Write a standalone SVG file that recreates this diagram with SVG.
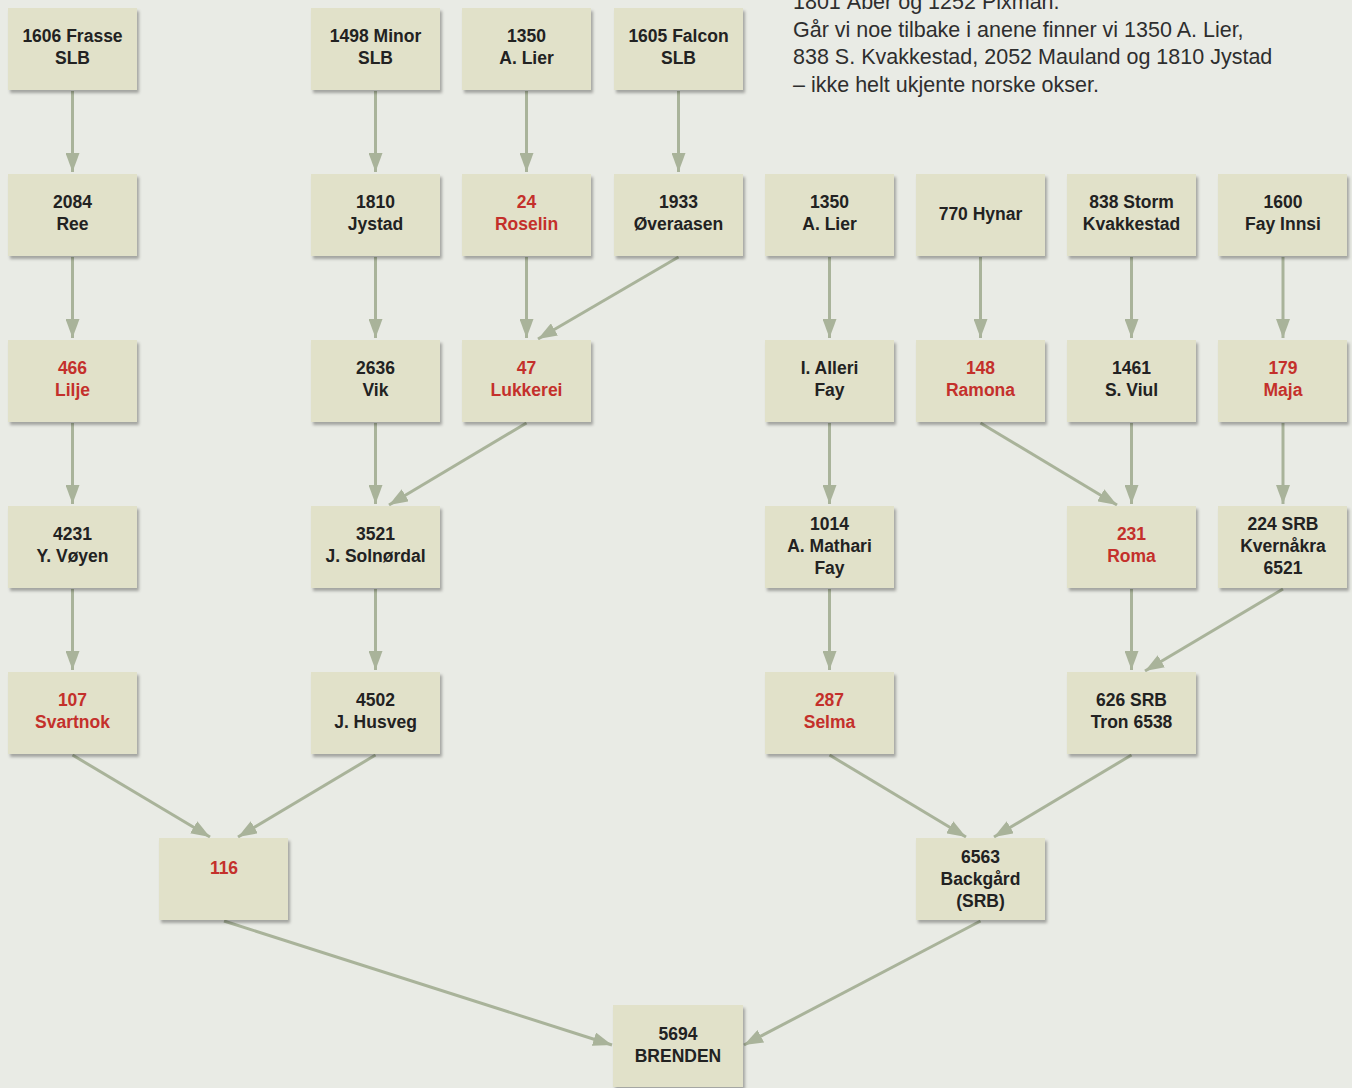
<svg xmlns="http://www.w3.org/2000/svg" width="1352" height="1088" viewBox="0 0 1352 1088">
<style>
  .box{fill:#e1e1c9;filter:url(#sh)}
  .t{font-family:"Liberation Sans",Arial,sans-serif;font-weight:700;font-size:17.5px;fill:#222;text-anchor:middle}
  .r{fill:#c4302b}
  .p{font-family:"Liberation Sans",Arial,sans-serif;font-size:21.5px;fill:#2e2e2e}
  .c{fill:none;stroke:#a9b39a;stroke-width:3;marker-end:url(#ah)}
</style>
<defs>
  <filter id="sh" x="-10%" y="-10%" width="130%" height="130%">
    <feDropShadow dx="2" dy="3" stdDeviation="1.5" flood-color="#000" flood-opacity="0.3"/>
  </filter>
  <marker id="ah" markerUnits="userSpaceOnUse" markerWidth="20" markerHeight="14" refX="19" refY="7" orient="auto">
    <path d="M0,0 L19,7 L0,14 Z" fill="#a9b39a"/>
  </marker>
</defs>
<rect width="1352" height="1088" fill="#e9ebe5"/>
<g id="intro" class="p">
  <text x="793" y="9">1801 Åber og 1252 Pixman.</text>
  <text x="793" y="37">Går vi noe tilbake i anene finner vi 1350 A. Lier,</text>
  <text x="793" y="64">838 S. Kvakkestad, 2052 Mauland og 1810 Jystad</text>
  <text x="793" y="92">– ikke helt ukjente norske okser.</text>
</g>
<g id="connectors">
  <path class="c" d="M72.5,91 V172"/>
  <path class="c" d="M72.5,257 V338"/>
  <path class="c" d="M72.5,423 V504"/>
  <path class="c" d="M72.5,589 V670"/>
  <path class="c" d="M375.5,91 V172"/>
  <path class="c" d="M375.5,257 V338"/>
  <path class="c" d="M375.5,423 V504"/>
  <path class="c" d="M375.5,589 V670"/>
  <path class="c" d="M526.5,91 V172"/>
  <path class="c" d="M526.5,257 V338"/>
  <path class="c" d="M678.5,91 V172"/>
  <path class="c" d="M829.5,257 V338"/>
  <path class="c" d="M829.5,423 V504"/>
  <path class="c" d="M829.5,589 V670"/>
  <path class="c" d="M980.5,257 V338"/>
  <path class="c" d="M1131.5,257 V338"/>
  <path class="c" d="M1131.5,423 V504"/>
  <path class="c" d="M1131.5,589 V670"/>
  <path class="c" d="M1283,257 V338"/>
  <path class="c" d="M1283,423 V504"/>
  <path class="c" d="M678.5,257 L538,339"/>
  <path class="c" d="M526.5,423 L389,505"/>
  <path class="c" d="M980.5,423 L1117,505"/>
  <path class="c" d="M1283,589 L1145,671"/>
  <path class="c" d="M72.5,755 L210,837"/>
  <path class="c" d="M375.5,755 L238,837"/>
  <path class="c" d="M829.5,755 L966,837"/>
  <path class="c" d="M1131.5,755 L994,837"/>
  <path class="c" d="M224,921 L612,1045"/>
  <path class="c" d="M980.5,921 L744,1045"/>
</g>
<g id="n1606"><rect class="box" x="8" y="8" width="129" height="82"/><text class="t" x="72.5" y="42">1606 Frasse</text><text class="t" x="72.5" y="64">SLB</text></g>
<g id="n1498"><rect class="box" x="311" y="8" width="129" height="82"/><text class="t" x="375.5" y="42">1498 Minor</text><text class="t" x="375.5" y="64">SLB</text></g>
<g id="n1350a"><rect class="box" x="462" y="8" width="129" height="82"/><text class="t" x="526.5" y="42">1350</text><text class="t" x="526.5" y="64">A. Lier</text></g>
<g id="n1605"><rect class="box" x="614" y="8" width="129" height="82"/><text class="t" x="678.5" y="42">1605 Falcon</text><text class="t" x="678.5" y="64">SLB</text></g>
<g id="n2084"><rect class="box" x="8" y="174" width="129" height="82"/><text class="t" x="72.5" y="208">2084</text><text class="t" x="72.5" y="230">Ree</text></g>
<g id="n1810"><rect class="box" x="311" y="174" width="129" height="82"/><text class="t" x="375.5" y="208">1810</text><text class="t" x="375.5" y="230">Jystad</text></g>
<g id="n24"><rect class="box" x="462" y="174" width="129" height="82"/><text class="t r" x="526.5" y="208">24</text><text class="t r" x="526.5" y="230">Roselin</text></g>
<g id="n1933"><rect class="box" x="614" y="174" width="129" height="82"/><text class="t" x="678.5" y="208">1933</text><text class="t" x="678.5" y="230">Øveraasen</text></g>
<g id="n1350b"><rect class="box" x="765" y="174" width="129" height="82"/><text class="t" x="829.5" y="208">1350</text><text class="t" x="829.5" y="230">A. Lier</text></g>
<g id="n770"><rect class="box" x="916" y="174" width="129" height="82"/><text class="t" x="980.5" y="220">770 Hynar</text></g>
<g id="n838"><rect class="box" x="1067" y="174" width="129" height="82"/><text class="t" x="1131.5" y="208">838 Storm</text><text class="t" x="1131.5" y="230">Kvakkestad</text></g>
<g id="n1600"><rect class="box" x="1218" y="174" width="129" height="82"/><text class="t" x="1283" y="208">1600</text><text class="t" x="1283" y="230">Fay Innsi</text></g>
<g id="n466"><rect class="box" x="8" y="340" width="129" height="82"/><text class="t r" x="72.5" y="374">466</text><text class="t r" x="72.5" y="396">Lilje</text></g>
<g id="n2636"><rect class="box" x="311" y="340" width="129" height="82"/><text class="t" x="375.5" y="374">2636</text><text class="t" x="375.5" y="396">Vik</text></g>
<g id="n47"><rect class="box" x="462" y="340" width="129" height="82"/><text class="t r" x="526.5" y="374">47</text><text class="t r" x="526.5" y="396">Lukkerei</text></g>
<g id="nAlleri"><rect class="box" x="765" y="340" width="129" height="82"/><text class="t" x="829.5" y="374">I. Alleri</text><text class="t" x="829.5" y="396">Fay</text></g>
<g id="n148"><rect class="box" x="916" y="340" width="129" height="82"/><text class="t r" x="980.5" y="374">148</text><text class="t r" x="980.5" y="396">Ramona</text></g>
<g id="n1461"><rect class="box" x="1067" y="340" width="129" height="82"/><text class="t" x="1131.5" y="374">1461</text><text class="t" x="1131.5" y="396">S. Viul</text></g>
<g id="n179"><rect class="box" x="1218" y="340" width="129" height="82"/><text class="t r" x="1283" y="374">179</text><text class="t r" x="1283" y="396">Maja</text></g>
<g id="n4231"><rect class="box" x="8" y="506" width="129" height="82"/><text class="t" x="72.5" y="540">4231</text><text class="t" x="72.5" y="562">Y. Vøyen</text></g>
<g id="n3521"><rect class="box" x="311" y="506" width="129" height="82"/><text class="t" x="375.5" y="540">3521</text><text class="t" x="375.5" y="562">J. Solnørdal</text></g>
<g id="n1014"><rect class="box" x="765" y="506" width="129" height="82"/><text class="t" x="829.5" y="530">1014</text><text class="t" x="829.5" y="552">A. Mathari</text><text class="t" x="829.5" y="574">Fay</text></g>
<g id="n231"><rect class="box" x="1067" y="506" width="129" height="82"/><text class="t r" x="1131.5" y="540">231</text><text class="t r" x="1131.5" y="562">Roma</text></g>
<g id="n224"><rect class="box" x="1218" y="506" width="129" height="82"/><text class="t" x="1283" y="530">224 SRB</text><text class="t" x="1283" y="552">Kvernåkra</text><text class="t" x="1283" y="574">6521</text></g>
<g id="n107"><rect class="box" x="8" y="672" width="129" height="82"/><text class="t r" x="72.5" y="706">107</text><text class="t r" x="72.5" y="728">Svartnok</text></g>
<g id="n4502"><rect class="box" x="311" y="672" width="129" height="82"/><text class="t" x="375.5" y="706">4502</text><text class="t" x="375.5" y="728">J. Husveg</text></g>
<g id="n287"><rect class="box" x="765" y="672" width="129" height="82"/><text class="t r" x="829.5" y="706">287</text><text class="t r" x="829.5" y="728">Selma</text></g>
<g id="n626"><rect class="box" x="1067" y="672" width="129" height="82"/><text class="t" x="1131.5" y="706">626 SRB</text><text class="t" x="1131.5" y="728">Tron 6538</text></g>
<g id="n116"><rect class="box" x="159" y="838" width="129" height="82"/><text class="t r" x="224" y="874">116</text></g>
<g id="n6563"><rect class="box" x="916" y="838" width="129" height="82"/><text class="t" x="980.5" y="863">6563</text><text class="t" x="980.5" y="885">Backgård</text><text class="t" x="980.5" y="907">(SRB)</text></g>
<g id="n5694"><rect class="box" x="613" y="1005" width="130" height="82"/><text class="t" x="678" y="1040">5694</text><text class="t" x="678" y="1062">BRENDEN</text></g>
</svg>
